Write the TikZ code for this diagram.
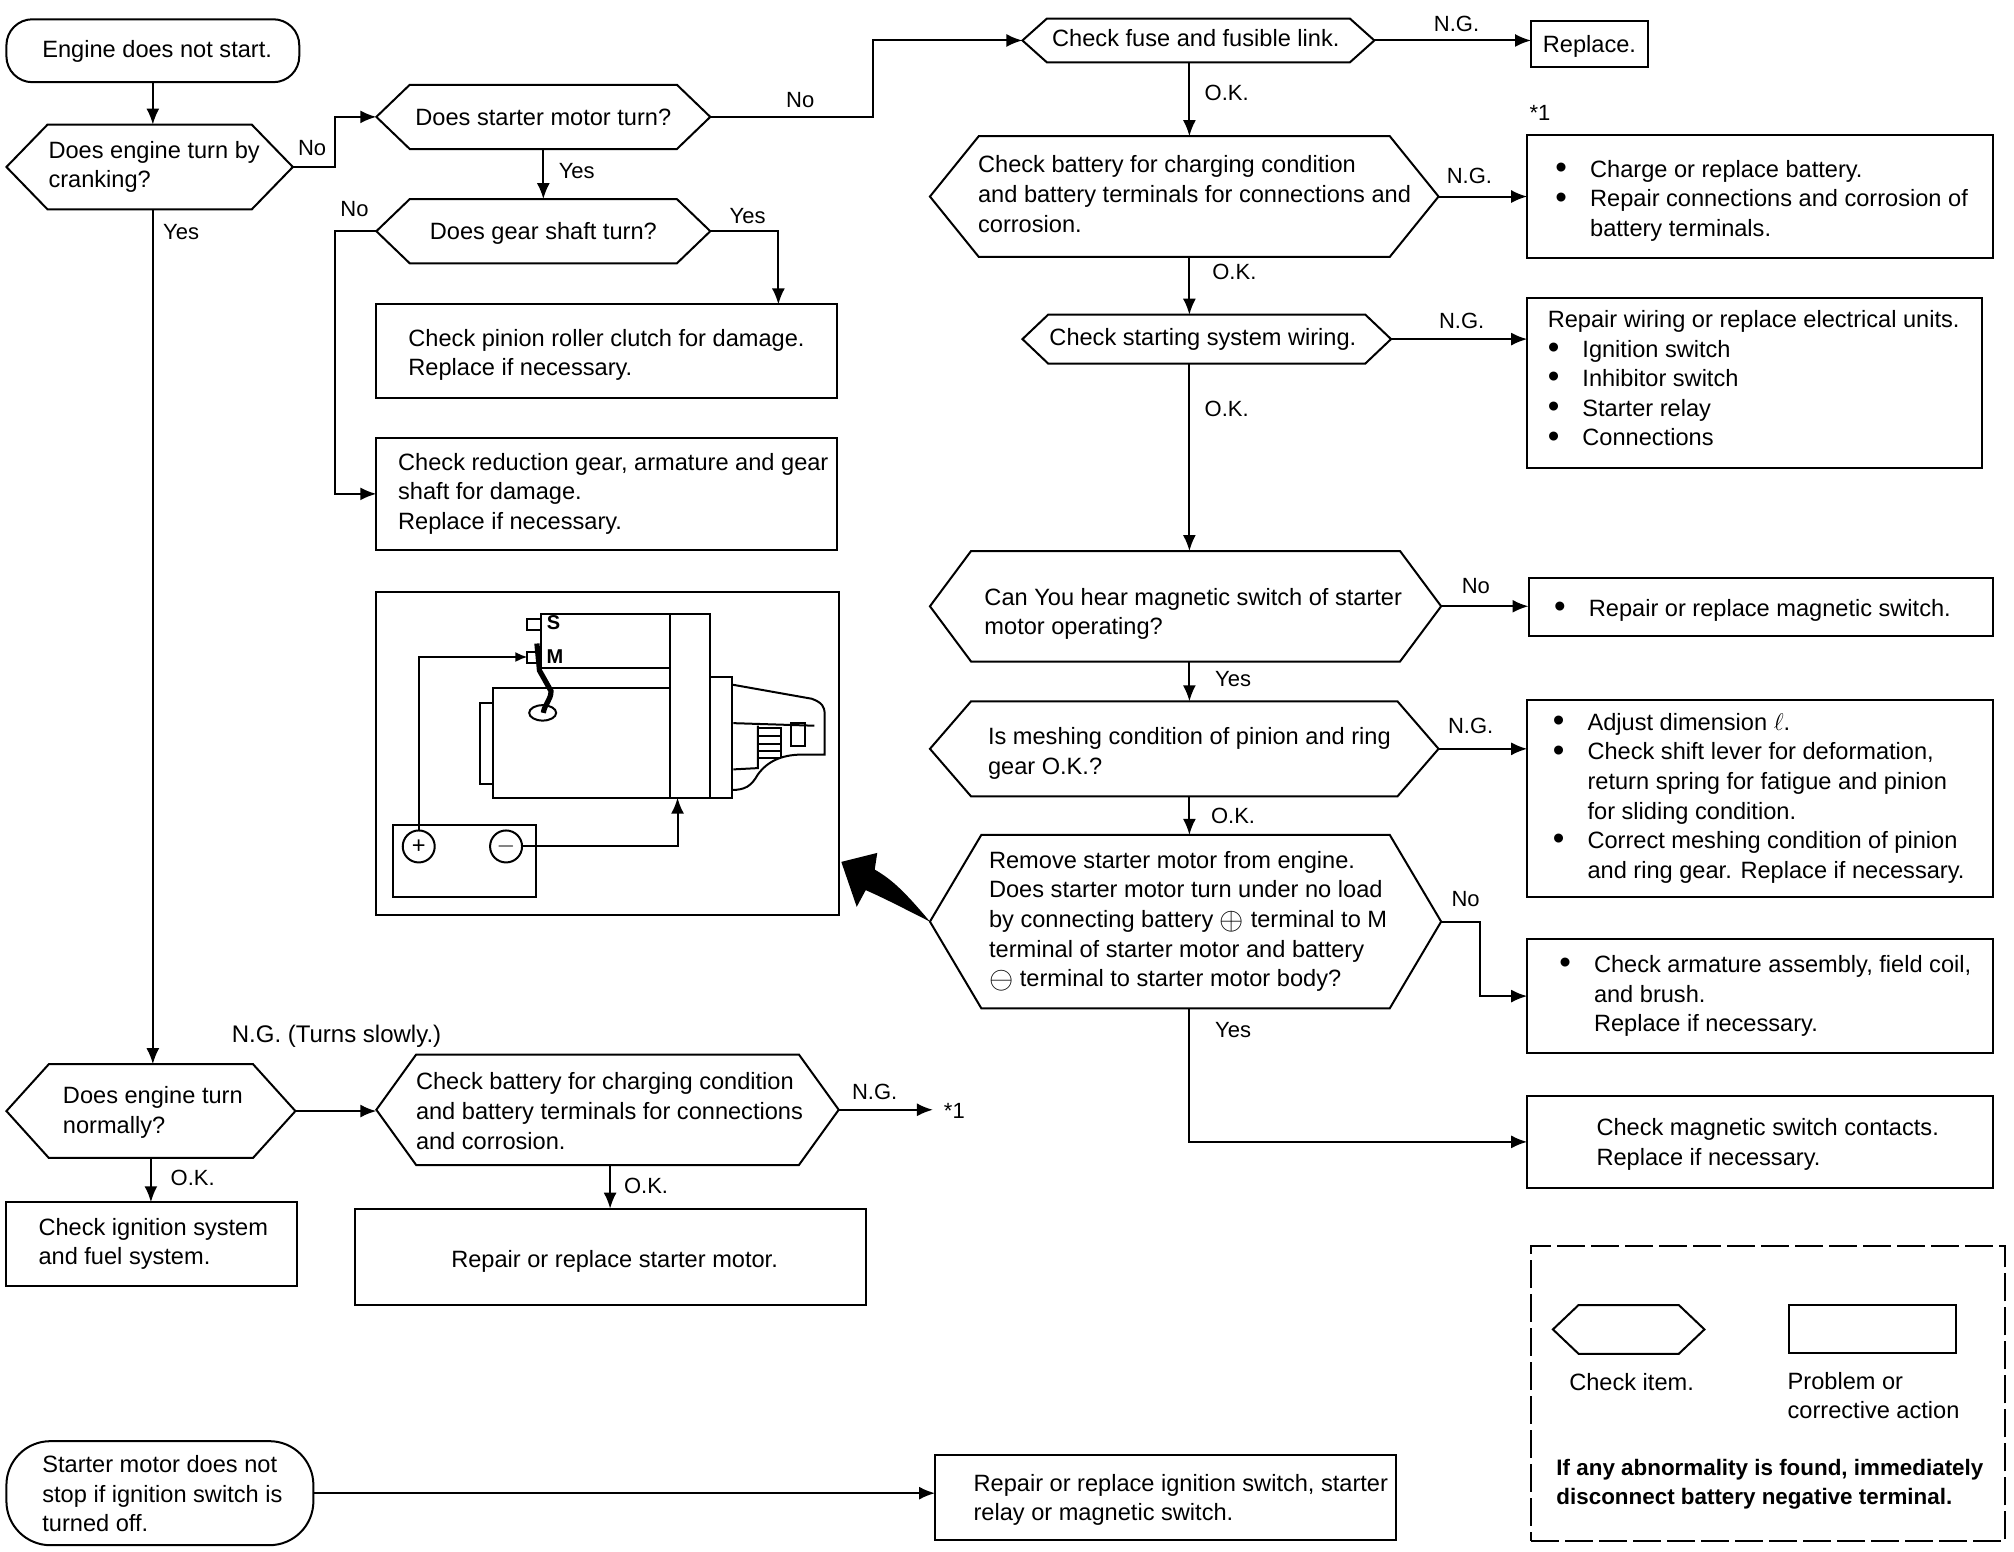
\documentclass[tikz,border=0pt]{standalone}
\usepackage{fontspec}
\setmainfont{Liberation Sans}
\usetikzlibrary{arrows.meta,shapes.symbols}

\newlength{\unitpx}
\setlength{\unitpx}{0.6423pt}
\newcommand{\hextxt}[3][0]{\raisebox{-#1\unitpx}[\height][\depth]{\makebox[0pt][c]{\hspace*{#2\unitpx}\hspace*{#2\unitpx}\begin{tabular}{@{}l@{}}#3\end{tabular}}}}
\newcommand{\boxtxt}[4][0]{\raisebox{-#1\unitpx}[\height][\depth]{\makebox[#2\unitpx][l]{\hspace*{#3\unitpx}\begin{tabular}{@{}l@{}}#4\end{tabular}}}}
\newcommand{\blt}{\makebox[27\unitpx][l]{\raisebox{-0.6pt}{\scalebox{1.4}{\textbullet}}}}
\newcommand{\ind}{\hspace*{27\unitpx}}
\newcommand{\cplus}{\raisebox{-1pt}{\scalebox{1.3}{$\oplus$}}}
\newcommand{\cminus}{\raisebox{-1pt}{\scalebox{1.3}{$\ominus$}}}

\tikzset{
  hexbox/.style n args={3}{shape=signal, signal to=east and west, draw, inner sep=0pt, outer sep=0pt,
    minimum width=#1*\unitpx, minimum height=#2*\unitpx, signal pointer angle={2*atan(#2/(2*#3))}},
  actbox/.style n args={2}{draw, rectangle, inner sep=0pt, outer sep=0pt,
    minimum width=#1*\unitpx, minimum height=#2*\unitpx},
  startbox/.style n args={2}{actbox={#1}{#2}, rounded corners=13pt},
  lbl/.style={inner sep=0pt, font=\fontsize{11}{14.8}\selectfont},
  flowarrow/.style={-{Latex[length=8pt,width=6.5pt]}},
  termarrow/.style={-{Latex[length=6pt,width=5pt]}},
  terminal/.style={draw, rectangle, inner sep=0pt, outer sep=0pt, minimum width=7pt, minimum height=5.5pt}
}

\begin{document}
\begin{tikzpicture}[x=0.6423pt,y=-0.6423pt,line width=1pt,
  font=\fontsize{11.8}{14.8}\selectfont]
\useasboundingbox (0,0) rectangle (1568,1208.3);

\coordinate (trunk) at (926,0);
\coordinate (pinionTop) at (606,237);

% left column
\node[startbox={228}{49}] (start) at (119,39.5) {\boxtxt[1]{228}{28}{Engine does not start.}};
\node[hexbox={223}{66}{32}] (crank) at (116.5,130) {\hextxt{3.5}{Does engine turn by\\cranking?}};
\node[hexbox={260}{50}{26}] (starter) at (423,91) {\hextxt[2]{0}{Does starter motor turn?}};
\node[hexbox={260}{50}{26}] (gear) at (423,180) {\hextxt[2]{0}{Does gear shaft turn?}};
\node[actbox={359}{73}] (pinion) at (472.5,273.5) {\boxtxt[3]{359}{25}{Check pinion roller clutch for damage.\\Replace if necessary.}};
\node[actbox={359}{87}] (reduction) at (472.5,384.5) {\boxtxt{359}{17}{Check reduction gear, armature and gear\\shaft for damage.\\Replace if necessary.}};
\node[hexbox={225}{73}{33}] (normal) at (117.5,865) {\hextxt[1]{1.5}{Does engine turn\\normally?}};
\node[hexbox={360}{86}{31}] (recheck) at (473,864) {\hextxt[3]{1.5}{Check battery for charging condition\\and battery terminals for connections\\and corrosion.}};
\node[lbl] (star) at (743,865) {*1};
\node[actbox={226}{65}] (ignition) at (118,968.5) {\boxtxt{226}{25}{Check ignition system\\and fuel system.}};
\node[actbox={398}{75}] (motorfix) at (475,978.5) {\hextxt[3.5]{3.5}{Repair or replace starter motor.}};
\node[startbox={239}{81},rounded corners=22pt] (nostop) at (124.5,1162.5) {\boxtxt[2.5]{239}{28}{Starter motor does not\\stop if ignition switch is\\turned off.}};
\node[actbox={359}{66}] (repairign) at (907.5,1166) {\boxtxt[2]{359}{30}{Repair or replace ignition switch, starter\\relay or magnetic switch.}};

% right column
\node[hexbox={274}{34}{19}] (fuse) at (933,31.5) {\hextxt{-2}{Check fuse and fusible link.}};
\node[actbox={91}{36}] (replace) at (1237.5,34) {\hextxt[2]{0}{Replace.}};
\node[hexbox={396}{94}{38}] (battery) at (922,153) {\hextxt{8}{Check battery for charging condition\\and battery terminals for connections and\\corrosion.}};
\node[actbox={363}{96}] (charge) at (1370.5,153) {\boxtxt[3.5]{363}{22}{\blt Charge or replace battery.\\\blt Repair connections and corrosion of\\\ind battery terminals.}};
\node[lbl] (starone) at (1199,88) {*1};
\node[hexbox={287}{38}{20}] (wiring) at (939.5,264) {\hextxt{-3}{Check starting system wiring.}};
\node[actbox={354}{132}] (rewire) at (1366,298) {\boxtxt[-1.5]{354}{16}{Repair wiring or replace electrical units.\\\blt Ignition switch\\\blt Inhibitor switch\\\blt Starter relay\\\blt Connections}};
\node[hexbox={398}{86}{32}] (hear) at (923,472) {\hextxt[6]{6}{Can You hear magnetic switch of starter\\motor operating?}};
\node[actbox={362}{45}] (magrepair) at (1371,472.5) {\boxtxt[3]{362}{20}{\blt Repair or replace magnetic switch.}};
\node[hexbox={396}{74}{32}] (mesh) at (922,583) {\hextxt[3.5]{4}{Is meshing condition of pinion and ring\\gear O.K.?}};
\node[actbox={363}{153}] (adjust) at (1370.5,621.5) {\boxtxt{363}{20}{\blt Adjust dimension $\ell$.\\\blt Check shift lever for deformation,\\\ind return spring for fatigue and pinion\\\ind for sliding condition.\\\blt Correct meshing condition of pinion\\\ind and ring gear. Replace if necessary.}};
\node[hexbox={398}{135}{40}] (remove) at (923,717.5) {\hextxt{2}{Remove starter motor from engine.\\Does starter motor turn under no load\\by connecting battery \cplus{} terminal to M\\terminal of starter motor and battery\\\cminus{} terminal to starter motor body?}};
\node[actbox={363}{89}] (armature) at (1370.5,775.5) {\boxtxt{363}{25}{\blt Check armature assembly, field coil,\\\ind and brush.\\\ind Replace if necessary.}};
\node[actbox={363}{72}] (contacts) at (1370.5,889) {\boxtxt[2]{363}{54}{Check magnetic switch contacts.\\Replace if necessary.}};

% legend
\node[actbox={369}{230},dash pattern=on 14pt off 3pt] (legend) at (1376.5,1085) {};
\node[hexbox={118}{38}{20}] (legendhex) at (1268,1035) {};
\node[actbox={130}{37}] (legendbox) at (1458,1034.5) {};
\node[inner sep=0pt,anchor=west] (legendcheck) at (1221,1076) {Check item.};
\node[inner sep=0pt,anchor=west] (legendaction) at (1391,1088.5) {\begin{tabular}{@{}l@{}}Problem or\\corrective action\end{tabular}};
\node[inner sep=0pt,anchor=west,font=\fontsize{11.2}{14.8}\selectfont\bfseries] (legendwarn) at (1211,1155.5) {\begin{tabular}{@{}l@{}}If any abnormality is found, immediately\\disconnect battery negative terminal.\end{tabular}};

% connectors
\draw[flowarrow] (start.south) -- (start.south |- crank.north);
\draw[flowarrow] (crank.east) -- ++(33,0) |- (starter.west);
\draw[flowarrow] (crank.south -| start.south) -- (normal.north -| start.south);
\draw[flowarrow] (starter.south) -- (gear.north);
\draw[flowarrow] (starter.east) -- ++(127,0) |- (fuse.west);
\draw[flowarrow] (gear.east) -| (pinionTop);
\draw[flowarrow] (gear.west) -- ++(-32,0) |- (reduction.west);
\draw[flowarrow] (normal.east) -- (normal.east -| recheck.west);
\draw[flowarrow,shorten >=5pt] (recheck.east) -- (recheck.east -| star.west);
\draw[flowarrow] (normal.south) -- (ignition.north -| normal.south);
\draw[flowarrow] (recheck.south -| motorfix.north) -- (motorfix.north);
\draw[flowarrow] (nostop.east) -- (nostop.east -| repairign.west);
\draw[flowarrow] (fuse.east) -- (fuse.east -| replace.west);
\draw[flowarrow] (fuse.south -| trunk) -- (battery.north -| trunk);
\draw[flowarrow] (battery.east) -- (charge.west);
\draw[flowarrow] (battery.south -| trunk) -- (wiring.north -| trunk);
\draw[flowarrow] (wiring.east) -- (wiring.east -| rewire.west);
\draw[flowarrow] (wiring.south -| trunk) -- (hear.north -| trunk);
\draw[flowarrow] (hear.east) -- (hear.east -| magrepair.west);
\draw[flowarrow] (hear.south -| trunk) -- (mesh.north -| trunk);
\draw[flowarrow] (mesh.east) -- (mesh.east -| adjust.west);
\draw[flowarrow] (mesh.south -| trunk) -- (remove.north -| trunk);
\draw[flowarrow] (remove.east) -- ++(30,0) |- (armature.west);
\draw[flowarrow] (remove.south -| trunk) |- (contacts.west);

% branch labels
\node[lbl] (noA) at (243,115) {No};
\node[lbl] (yesA) at (141,181) {Yes};
\node[lbl] (noB) at (623,78) {No};
\node[lbl] (yesB) at (449,133) {Yes};
\node[lbl] (noC) at (276,163) {No};
\node[lbl] (yesC) at (582,168) {Yes};
\node[lbl] (ngA) at (1134,19) {N.G.};
\node[lbl] (okA) at (955,72) {O.K.};
\node[lbl] (ngB) at (1144,137) {N.G.};
\node[lbl] (okB) at (961,212) {O.K.};
\node[lbl] (ngC) at (1138,250) {N.G.};
\node[lbl] (okC) at (955,318) {O.K.};
\node[lbl] (noD) at (1149,456) {No};
\node[lbl] (yesD) at (960,529) {Yes};
\node[lbl] (ngD) at (1145,565) {N.G.};
\node[lbl] (okD) at (960,635) {O.K.};
\node[lbl] (noE) at (1141,700) {No};
\node[lbl] (yesE) at (960,802) {Yes};
\node[lbl,font=\fontsize{12}{14.8}\selectfont] (slow) at (262,807) {N.G. (Turns slowly.)};
\node[lbl] (ngE) at (681,850) {N.G.};
\node[lbl] (okE) at (150,917) {O.K.};
\node[lbl] (okF) at (503,923) {O.K.};

% starter motor picture
\node[actbox={360}{251}] (motorpic) at (473,586.5) {};
\draw (421.5,520) -- (421.5,478) -- (522,478) -- (522,520) -- cycle;
\draw (522,478) rectangle (553,621);
\draw (522,536) -- (384,536) -- (384,621) -- (522,621);
\draw (374,547) rectangle (384,610);
\draw (553,527) rectangle (570,621);
\draw (570,533) -- (632,544) .. controls (640,547) and (642,550) .. (642,556) -- (642,587.5) -- (627,587.5)
  .. controls (610,587) and (598,592) .. (590,603) .. controls (585,612) and (580,615) .. (570,615);
\draw (571,563) -- (634,565);
\draw (571,599) -- (590,598) -- (590,565);
\foreach \ty in {567,573,579,585,590} \draw (590,\ty) -- (608,\ty);
\draw (608,566) -- (608,590);
\draw (616,563) rectangle (627,581);
\node[terminal] (termS) at (416,486) {};
\node[terminal,minimum width=5pt] (termM) at (414.5,511.5) {};
\node[lbl,font=\fontsize{10}{12}\selectfont\bfseries] (labelS) at (431,485) {S};
\node[lbl,font=\fontsize{10}{12}\selectfont\bfseries] (labelM) at (432,511) {M};
\draw (422.5,555) ellipse (10.5 and 6);
\draw[line width=2.6pt] (418,501) -- (420,522) -- (429,538) .. controls (429,545) and (424,548) .. (423,555);
\node[actbox={111}{56}] (batterybox) at (361.5,670) {};
\node[circle,draw,inner sep=0pt,outer sep=0pt,minimum size=16pt] (plusterm) at (326,659) {+};
\node[circle,draw,inner sep=0pt,outer sep=0pt,minimum size=16pt] (minusterm) at (394,659) {$-$};
\draw[termarrow] (plusterm.north) |- (termM.west);
\draw[flowarrow] (minusterm.east) -| (527.5,621);
\fill (remove.west) .. controls (705,695) and (695,685) .. (681,677) -- (683,664) -- (655,671) -- (667,706) -- (674,693) .. controls (690,700) and (705,708) .. (remove.west);
\end{tikzpicture}
\end{document}
